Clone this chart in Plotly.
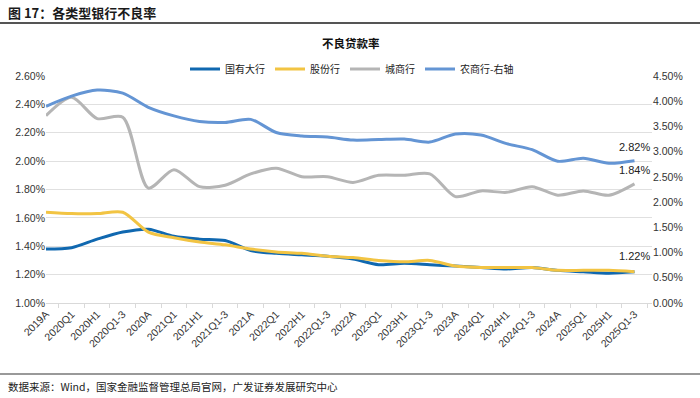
import plotly.graph_objects as go

categories = ['2019A', '2020Q1', '2020H1', '2020Q1-3', '2020A', '2021Q1', '2021H1', '2021Q1-3',
              '2021A', '2022Q1', '2022H1', '2022Q1-3', '2022A', '2023Q1', '2023H1', '2023Q1-3',
              '2023A', '2024Q1', '2024H1', '2024Q1-3', '2024A', '2025Q1', '2025H1', '2025Q1-3']

big_banks = [1.38, 1.39, 1.45, 1.50, 1.52, 1.47, 1.45, 1.44, 1.37, 1.35, 1.34, 1.33,
             1.31, 1.27, 1.28, 1.27, 1.26, 1.25, 1.24, 1.25, 1.23, 1.22, 1.21, 1.22]
joint_stock = [1.64, 1.63, 1.63, 1.64, 1.50, 1.46, 1.43, 1.41, 1.38, 1.36, 1.35, 1.33,
               1.32, 1.30, 1.29, 1.30, 1.26, 1.25, 1.25, 1.25, 1.23, 1.23, 1.23, 1.22]
city_banks = [2.32, 2.45, 2.30, 2.31, 1.81, 1.94, 1.82, 1.83, 1.91, 1.95, 1.89, 1.89,
              1.85, 1.90, 1.90, 1.91, 1.75, 1.79, 1.78, 1.82, 1.76, 1.79, 1.76, 1.84]
rural_banks = [3.90, 4.10, 4.22, 4.16, 3.88, 3.71, 3.60, 3.58, 3.64, 3.38, 3.31, 3.29,
               3.23, 3.24, 3.25, 3.19, 3.35, 3.33, 3.16, 3.04, 2.81, 2.87, 2.77, 2.82]

series_names = ['国有大行', '股份行', '城商行', '农商行-右轴']
colors = ['#1068B0', '#F2C443', '#B5B5B5', '#6495D4']

W, H = 700, 398
ML, MR, MT, MB = 46, 48, 76, 95
PW, PH = W - ML - MR, H - MT - MB

FONT = 'Liberation Sans, Noto Sans CJK SC, sans-serif'
CJK = 'Noto Sans CJK SC, Liberation Sans, sans-serif'

fig = go.Figure()
for name, vals, col, ax in zip(series_names,
                               [big_banks, joint_stock, city_banks, rural_banks],
                               colors, ['y', 'y', 'y', 'y2']):
    fig.add_trace(go.Scatter(x=categories, y=vals, name=name, mode='lines',
                             yaxis=ax,
                             line=dict(color=col, width=3, shape='spline', smoothing=0.8),
                             hoverinfo='skip'))

# end labels
for vals, ax, ys in [(rural_banks, 'y2', 14), (city_banks, 'y', 14), (joint_stock, 'y', 16)]:
    fig.add_annotation(x=categories[-1], y=vals[-1], yref=ax, xref='x',
                       text=f'{vals[-1]:.2f}%', showarrow=False, yshift=ys,
                       font=dict(family=FONT, size=11, color='#222'))

def py(ypix):
    return (H - MB - ypix) / PH

def px(xpix):
    return (xpix - ML) / PW

# header and footer
fig.add_annotation(xref='paper', yref='paper', x=px(6), y=py(12), xanchor='left', yanchor='middle',
                   text='<b>图 17：各类型银行不良率</b>', showarrow=False,
                   font=dict(family=CJK, size=13, color='#1a1a1a'))
fig.add_annotation(xref='paper', yref='paper', x=px(351), y=py(43), xanchor='center', yanchor='middle',
                   text='<b>不良贷款率</b>', showarrow=False,
                   font=dict(family=CJK, size=11.5, color='#111'))
fig.add_annotation(xref='paper', yref='paper', x=px(6), y=py(386), xanchor='left', yanchor='middle',
                   text='数据来源：Wind，国家金融监督管理总局官网，广发证券发展研究中心', showarrow=False,
                   font=dict(family=CJK, size=10.5, color='#222'))
fig.add_shape(type='line', xref='paper', yref='paper', x0=px(0), x1=px(W), y0=py(23), y1=py(23),
              line=dict(color='#555555', width=2))
fig.add_shape(type='line', xref='paper', yref='paper', x0=px(0), x1=px(W), y0=py(374), y1=py(374),
              line=dict(color='#777777', width=1.5))

fig.update_layout(
    width=W, height=H,
    margin=dict(l=ML, r=MR, t=MT, b=MB),
    paper_bgcolor='white', plot_bgcolor='white',
    showlegend=True,
    legend=dict(orientation='h', x=px(352), xanchor='center', y=py(69), yanchor='middle',
                font=dict(family=CJK, size=10, color='#222'), itemwidth=30,
                bgcolor='rgba(0,0,0,0)', tracegroupgap=0),
    xaxis=dict(type='category', tickangle=-45, tickson='boundaries', ticks='outside',
               ticklen=4, tickcolor='#d9d9d9', showline=True, linecolor='#d9d9d9',
               showgrid=False, tickfont=dict(family=FONT, size=10.5, color='#333')),
    yaxis=dict(range=[1.0, 2.6], dtick=0.2, tickformat='.2f', ticksuffix='%',
               showgrid=True, gridcolor='#e0e0e0', gridwidth=1, zeroline=False,
               tickfont=dict(family=FONT, size=10.5, color='#333')),
    yaxis2=dict(range=[0, 4.5], dtick=0.5, tickformat='.2f', ticksuffix='%',
                overlaying='y', side='right', showgrid=False, zeroline=False,
                tickfont=dict(family=FONT, size=10.5, color='#333')),
)

fig.write_html('out.html', config={'displayModeBar': False},
               post_script="document.body.style.margin='0';document.body.style.overflow='hidden';")
